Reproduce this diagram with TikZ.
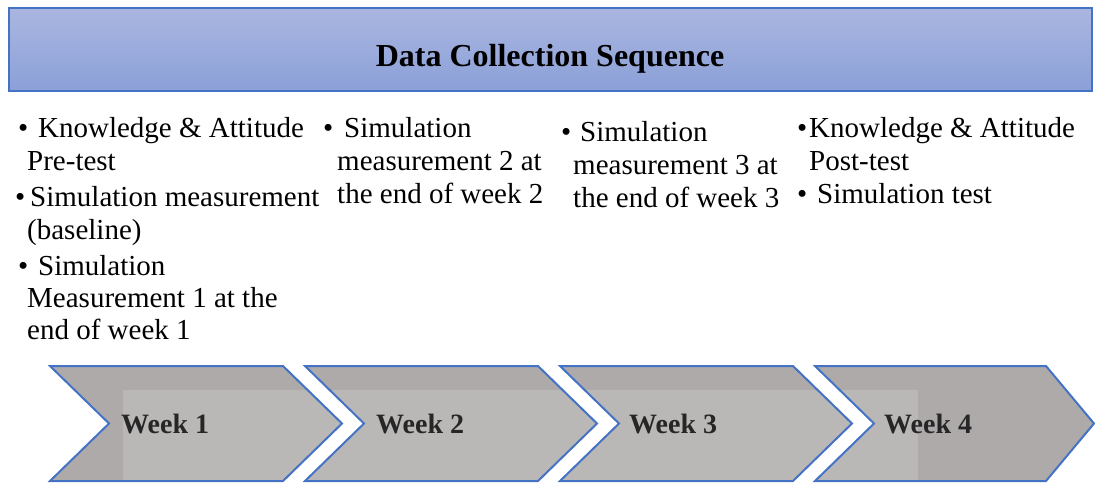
\documentclass[tikz,border=0pt]{standalone}
\usepackage{fontspec}
\setmainfont{Liberation Serif}
\definecolor{bannertop}{RGB}{170,182,224}
\definecolor{bannerbot}{RGB}{139,160,216}
\definecolor{edgeblue}{RGB}{68,114,196}
\definecolor{chevfill}{RGB}{174,170,170}
\definecolor{chevlight}{RGB}{186,184,182}
\definecolor{weektext}{RGB}{38,38,38}
% bullet in a box of given width, followed by the item text
\newcommand{\bl}[2]{\makebox[#1][l]{•}#2}
\tikzset{
  banner/.style={draw=edgeblue, line width=1.5pt, top color=bannertop, bottom color=bannerbot,
    minimum width=1083pt, minimum height=83pt, inner sep=0pt},
  titletext/.style={font=\fontsize{32}{38}\selectfont\bfseries, inner sep=0pt, anchor=base},
  bodytext/.style={font=\fontsize{29}{33}\selectfont, inner sep=0pt, anchor=base west},
  weektext/.style={font=\fontsize{28}{33}\selectfont\bfseries, text=weektext, inner sep=0pt, anchor=base west},
  chevedge/.style={draw=edgeblue, line width=2pt, line join=miter}
}
\begin{document}
\begin{tikzpicture}[x=1pt,y=-1pt]
\useasboundingbox (0,0) rectangle (1095,482);

% title banner
\node[banner] (banner) at (550.5,49.5) {};
\node[titletext] (title) at (550,66) {Data Collection Sequence};

% column 1
\node[bodytext] (c1a) at (18,137) {\bl{20pt}{Knowledge \& Attitude}};
\node[bodytext] (c1b) at (27,170) {Pre-test};
\node[bodytext] (c1c) at (15,206) {\bl{15pt}{Simulation measurement}};
\node[bodytext] (c1d) at (27,239) {(baseline)};
\node[bodytext] (c1e) at (18,275) {\bl{20pt}{Simulation}};
\node[bodytext] (c1f) at (27,307) {Measurement 1 at the};
\node[bodytext] (c1g) at (27,339) {end of week 1};

% column 2
\node[bodytext] (c2a) at (323,137) {\bl{21pt}{Simulation}};
\node[bodytext] (c2b) at (337,170) {measurement 2 at};
\node[bodytext] (c2c) at (337,203) {the end of week 2};

% column 3
\node[bodytext] (c3a) at (561,141) {\bl{19pt}{Simulation}};
\node[bodytext] (c3b) at (573,174) {measurement 3 at};
\node[bodytext] (c3c) at (573,207) {the end of week 3};

% column 4
\node[bodytext] (c4a) at (797,137) {\bl{12pt}{Knowledge \& Attitude}};
\node[bodytext] (c4b) at (809,170) {Post-test};
\node[bodytext] (c4c) at (797,203) {\bl{20pt}{Simulation test}};

% chevron outlines: left x, right shoulder x, tip x
\def\chevA{(50,366) -- (283,366) -- (342,423.5) -- (283,481) -- (50,481) -- (109,423.5) -- cycle}
\def\chevB{(305,366) -- (538,366) -- (597,423.5) -- (538,481) -- (305,481) -- (364,423.5) -- cycle}
\def\chevC{(560,366) -- (793,366) -- (852,423.5) -- (793,481) -- (560,481) -- (619,423.5) -- cycle}
\def\chevD{(815,366) -- (1046,366) -- (1094,423.5) -- (1046,481) -- (815,481) -- (874,423.5) -- cycle}

\fill[chevfill] \chevA \chevB \chevC \chevD;
\begin{scope}
  \clip \chevA \chevB \chevC \chevD;
  \fill[chevlight] (123,390) rectangle (918,490);
\end{scope}
\draw[chevedge] \chevA;
\draw[chevedge] \chevB;
\draw[chevedge] \chevC;
\draw[chevedge] \chevD;

\node[weektext] (w1) at (121,433) {Week 1};
\node[weektext] (w2) at (376,433) {Week 2};
\node[weektext] (w3) at (629,433) {Week 3};
\node[weektext] (w4) at (884,433) {Week 4};
\end{tikzpicture}
\end{document}
